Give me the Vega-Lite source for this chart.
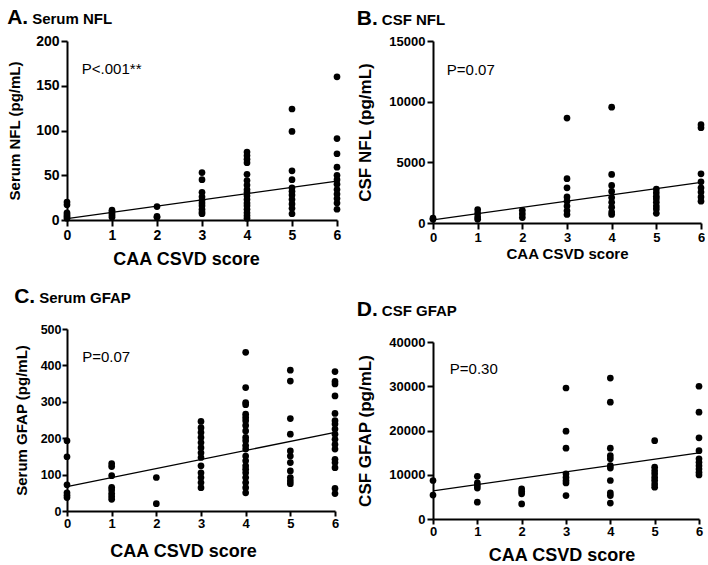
{
  "$schema": "https://vega.github.io/schema/vega-lite/v6.json",
  "padding": {"left": 7, "top": 7, "right": 0, "bottom": 0},
  "datasets": {
    "pts": [
      {"p":"A","s":0,"v":20},{"p":"A","s":0,"v":17},{"p":"A","s":0,"v":8},{"p":"A","s":0,"v":6},{"p":"A","s":0,"v":4},{"p":"A","s":0,"v":2},
      {"p":"A","s":1,"v":11},{"p":"A","s":1,"v":9},{"p":"A","s":1,"v":7},{"p":"A","s":1,"v":5},{"p":"A","s":1,"v":3},
      {"p":"A","s":2,"v":15},{"p":"A","s":2,"v":4},{"p":"A","s":2,"v":3},
      {"p":"A","s":3,"v":53},{"p":"A","s":3,"v":45},{"p":"A","s":3,"v":31},{"p":"A","s":3,"v":26},{"p":"A","s":3,"v":22},{"p":"A","s":3,"v":19},{"p":"A","s":3,"v":16},{"p":"A","s":3,"v":12},{"p":"A","s":3,"v":9},{"p":"A","s":3,"v":7},
      {"p":"A","s":4,"v":76},{"p":"A","s":4,"v":72},{"p":"A","s":4,"v":68},{"p":"A","s":4,"v":64},{"p":"A","s":4,"v":51},{"p":"A","s":4,"v":44},{"p":"A","s":4,"v":39},{"p":"A","s":4,"v":34},{"p":"A","s":4,"v":31},{"p":"A","s":4,"v":27},{"p":"A","s":4,"v":23},{"p":"A","s":4,"v":19},{"p":"A","s":4,"v":16},{"p":"A","s":4,"v":12},{"p":"A","s":4,"v":8},{"p":"A","s":4,"v":5},{"p":"A","s":4,"v":2},
      {"p":"A","s":5,"v":124},{"p":"A","s":5,"v":99},{"p":"A","s":5,"v":55},{"p":"A","s":5,"v":45},{"p":"A","s":5,"v":36},{"p":"A","s":5,"v":32},{"p":"A","s":5,"v":28},{"p":"A","s":5,"v":23},{"p":"A","s":5,"v":18},{"p":"A","s":5,"v":13},{"p":"A","s":5,"v":7},
      {"p":"A","s":6,"v":160},{"p":"A","s":6,"v":91},{"p":"A","s":6,"v":74},{"p":"A","s":6,"v":59},{"p":"A","s":6,"v":50},{"p":"A","s":6,"v":45},{"p":"A","s":6,"v":40},{"p":"A","s":6,"v":34},{"p":"A","s":6,"v":29},{"p":"A","s":6,"v":24},{"p":"A","s":6,"v":19},{"p":"A","s":6,"v":12},
      {"p":"B","s":0,"v":400},{"p":"B","s":0,"v":300},
      {"p":"B","s":1,"v":1100},{"p":"B","s":1,"v":800},{"p":"B","s":1,"v":500},{"p":"B","s":1,"v":300},
      {"p":"B","s":2,"v":1050},{"p":"B","s":2,"v":750},{"p":"B","s":2,"v":450},
      {"p":"B","s":3,"v":8650},{"p":"B","s":3,"v":3650},{"p":"B","s":3,"v":2900},{"p":"B","s":3,"v":2150},{"p":"B","s":3,"v":1800},{"p":"B","s":3,"v":1400},{"p":"B","s":3,"v":1000},{"p":"B","s":3,"v":700},
      {"p":"B","s":4,"v":9550},{"p":"B","s":4,"v":4000},{"p":"B","s":4,"v":3100},{"p":"B","s":4,"v":2600},{"p":"B","s":4,"v":2100},{"p":"B","s":4,"v":1700},{"p":"B","s":4,"v":1300},{"p":"B","s":4,"v":900},{"p":"B","s":4,"v":700},
      {"p":"B","s":5,"v":2800},{"p":"B","s":5,"v":2500},{"p":"B","s":5,"v":2200},{"p":"B","s":5,"v":2000},{"p":"B","s":5,"v":1700},{"p":"B","s":5,"v":1400},{"p":"B","s":5,"v":1150},{"p":"B","s":5,"v":800},
      {"p":"B","s":6,"v":8100},{"p":"B","s":6,"v":7850},{"p":"B","s":6,"v":4050},{"p":"B","s":6,"v":3400},{"p":"B","s":6,"v":2900},{"p":"B","s":6,"v":2550},{"p":"B","s":6,"v":2150},{"p":"B","s":6,"v":1800},
      {"p":"C","s":0,"v":193},{"p":"C","s":0,"v":149},{"p":"C","s":0,"v":72},{"p":"C","s":0,"v":50},{"p":"C","s":0,"v":43},{"p":"C","s":0,"v":37},
      {"p":"C","s":1,"v":130},{"p":"C","s":1,"v":122},{"p":"C","s":1,"v":97},{"p":"C","s":1,"v":65},{"p":"C","s":1,"v":58},{"p":"C","s":1,"v":48},{"p":"C","s":1,"v":40},{"p":"C","s":1,"v":32},
      {"p":"C","s":2,"v":92},{"p":"C","s":2,"v":20},
      {"p":"C","s":3,"v":246},{"p":"C","s":3,"v":229},{"p":"C","s":3,"v":216},{"p":"C","s":3,"v":202},{"p":"C","s":3,"v":188},{"p":"C","s":3,"v":174},{"p":"C","s":3,"v":160},{"p":"C","s":3,"v":147},{"p":"C","s":3,"v":124},{"p":"C","s":3,"v":105},{"p":"C","s":3,"v":92},{"p":"C","s":3,"v":78},{"p":"C","s":3,"v":64},
      {"p":"C","s":4,"v":436},{"p":"C","s":4,"v":339},{"p":"C","s":4,"v":298},{"p":"C","s":4,"v":292},{"p":"C","s":4,"v":266},{"p":"C","s":4,"v":257},{"p":"C","s":4,"v":248},{"p":"C","s":4,"v":235},{"p":"C","s":4,"v":220},{"p":"C","s":4,"v":202},{"p":"C","s":4,"v":193},{"p":"C","s":4,"v":180},{"p":"C","s":4,"v":170},{"p":"C","s":4,"v":151},{"p":"C","s":4,"v":138},{"p":"C","s":4,"v":124},{"p":"C","s":4,"v":115},{"p":"C","s":4,"v":105},{"p":"C","s":4,"v":92},{"p":"C","s":4,"v":78},{"p":"C","s":4,"v":64},{"p":"C","s":4,"v":50},
      {"p":"C","s":5,"v":387},{"p":"C","s":5,"v":357},{"p":"C","s":5,"v":254},{"p":"C","s":5,"v":211},{"p":"C","s":5,"v":165},{"p":"C","s":5,"v":151},{"p":"C","s":5,"v":133},{"p":"C","s":5,"v":110},{"p":"C","s":5,"v":92},{"p":"C","s":5,"v":83},{"p":"C","s":5,"v":75},
      {"p":"C","s":6,"v":383},{"p":"C","s":6,"v":356},{"p":"C","s":6,"v":349},{"p":"C","s":6,"v":316},{"p":"C","s":6,"v":268},{"p":"C","s":6,"v":248},{"p":"C","s":6,"v":239},{"p":"C","s":6,"v":225},{"p":"C","s":6,"v":211},{"p":"C","s":6,"v":197},{"p":"C","s":6,"v":183},{"p":"C","s":6,"v":170},{"p":"C","s":6,"v":142},{"p":"C","s":6,"v":133},{"p":"C","s":6,"v":119},{"p":"C","s":6,"v":62},{"p":"C","s":6,"v":48},
      {"p":"D","s":0,"v":8700},{"p":"D","s":0,"v":5400},
      {"p":"D","s":1,"v":9650},{"p":"D","s":1,"v":8150},{"p":"D","s":1,"v":7550},{"p":"D","s":1,"v":7000},{"p":"D","s":1,"v":3800},
      {"p":"D","s":2,"v":6800},{"p":"D","s":2,"v":6200},{"p":"D","s":2,"v":5700},{"p":"D","s":2,"v":3400},
      {"p":"D","s":3,"v":29600},{"p":"D","s":3,"v":19850},{"p":"D","s":3,"v":16000},{"p":"D","s":3,"v":10200},{"p":"D","s":3,"v":9400},{"p":"D","s":3,"v":8700},{"p":"D","s":3,"v":8150},{"p":"D","s":3,"v":5300},
      {"p":"D","s":4,"v":31850},{"p":"D","s":4,"v":26400},{"p":"D","s":4,"v":16000},{"p":"D","s":4,"v":14300},{"p":"D","s":4,"v":13600},{"p":"D","s":4,"v":12050},{"p":"D","s":4,"v":11500},{"p":"D","s":4,"v":8700},{"p":"D","s":4,"v":5900},{"p":"D","s":4,"v":5300},{"p":"D","s":4,"v":3600},
      {"p":"D","s":5,"v":17700},{"p":"D","s":5,"v":11700},{"p":"D","s":5,"v":10900},{"p":"D","s":5,"v":10200},{"p":"D","s":5,"v":9400},{"p":"D","s":5,"v":8700},{"p":"D","s":5,"v":7900},{"p":"D","s":5,"v":7200},
      {"p":"D","s":6,"v":30000},{"p":"D","s":6,"v":24150},{"p":"D","s":6,"v":18350},{"p":"D","s":6,"v":15450},{"p":"D","s":6,"v":13600},{"p":"D","s":6,"v":12800},{"p":"D","s":6,"v":12050},{"p":"D","s":6,"v":11300},{"p":"D","s":6,"v":10550},{"p":"D","s":6,"v":9950}
    ],
    "fit": [
      {"p":"A","s":0,"v":1.5},{"p":"A","s":6,"v":43.5},
      {"p":"B","s":0,"v":250},{"p":"B","s":6,"v":3350},
      {"p":"C","s":0,"v":67},{"p":"C","s":6,"v":216},
      {"p":"D","s":0,"v":6350},{"p":"D","s":6,"v":14950}
    ],
    "ann": [
      {"p":"A","s":0.33,"v":169,"t":"P<.001**"},
      {"p":"B","s":0.31,"v":12650,"t":"P=0.07"},
      {"p":"C","s":0.34,"v":424,"t":"P=0.07"},
      {"p":"D","s":0.38,"v":33950,"t":"P=0.30"}
    ]
  },
  "spacing": 15,
  "hconcat": [
    {
      "columns": 1, "align": "none", "spacing": 17,
      "concat": [
        {
          "width": 270, "height": 179,
          "title": {"text": "A.", "subtitle": "Serum NFL", "offset": 6, "encode": {"subtitle": {"update": {"dx": {"value": 25}}}}},
          "encoding": {
            "x": {"field": "s", "type": "quantitative", "scale": {"domain": [0, 6], "nice": false}, "axis": {"title": "CAA CSVD score", "titleFontSize": 18, "titleX": 119, "labelFontSize": 14}},
            "y": {"field": "v", "type": "quantitative", "scale": {"domain": [0, 200], "nice": false}, "axis": {"values": [0, 50, 100, 150, 200], "labelOverlap": false, "title": "Serum  NFL (pg/mL)", "titleFontSize": 15, "titlePadding": 13.5, "labelFontSize": 14}}
          },
          "layer": [
            {"data": {"name": "pts"}, "transform": [{"filter": "datum.p === 'A'"}], "mark": {"type": "circle", "size": 45, "color": "black", "opacity": 1}},
            {"data": {"name": "fit"}, "transform": [{"filter": "datum.p === 'A'"}], "mark": {"type": "line", "color": "black", "strokeWidth": 1.3}},
            {"data": {"name": "ann"}, "transform": [{"filter": "datum.p === 'A'"}],
             "mark": {"type": "text", "align": "left", "baseline": "middle", "fontSize": 15, "font": "Liberation Sans", "color": "black"},
             "encoding": {"text": {"field": "t"}}}
          ]
        },
        {
          "width": 268, "height": 182,
          "title": {"text": "C.", "subtitle": "Serum GFAP", "offset": 16.5, "encode": {"subtitle": {"update": {"dx": {"value": 25}}}}},
          "encoding": {
            "x": {"field": "s", "type": "quantitative", "scale": {"domain": [0, 6], "nice": false}, "axis": {"title": "CAA CSVD score", "titleFontSize": 18, "titleX": 116, "labelFontSize": 13, "tickSize": 5, "labelPadding": 1, "titlePadding": 12}},
            "y": {"field": "v", "type": "quantitative", "scale": {"domain": [0, 500], "nice": false}, "axis": {"values": [0, 100, 200, 300, 400, 500], "tickCount": 6, "labelOverlap": false, "title": "Serum GFAP (pg/mL)", "titleFontSize": 15, "titlePadding": 11, "labelFontSize": 12.5, "tickSize": 5, "labelPadding": 1}}
          },
          "layer": [
            {"data": {"name": "pts"}, "transform": [{"filter": "datum.p === 'C'"}], "mark": {"type": "circle", "size": 45, "color": "black", "opacity": 1}},
            {"data": {"name": "fit"}, "transform": [{"filter": "datum.p === 'C'"}], "mark": {"type": "line", "color": "black", "strokeWidth": 1.3}},
            {"data": {"name": "ann"}, "transform": [{"filter": "datum.p === 'C'"}],
             "mark": {"type": "text", "align": "left", "baseline": "middle", "fontSize": 15, "font": "Liberation Sans", "color": "black"},
             "encoding": {"text": {"field": "t"}}}
          ]
        }
      ]
    },
    {
      "columns": 1, "align": "none", "spacing": 38,
      "concat": [
        {
          "width": 268, "height": 182,
          "title": {"text": "B.", "subtitle": "CSF NFL", "offset": 6, "encode": {"subtitle": {"update": {"dx": {"value": 25}}}}},
          "encoding": {
            "x": {"field": "s", "type": "quantitative", "scale": {"domain": [0, 6], "nice": false}, "axis": {"title": "CAA CSVD score", "titleFontSize": 15, "titlePadding": 2, "labelFontSize": 13}},
            "y": {"field": "v", "type": "quantitative", "scale": {"domain": [0, 15000], "nice": false}, "axis": {"values": [0, 5000, 10000, 15000], "labelOverlap": false, "title": "CSF NFL (pg/mL)", "titleFontSize": 17, "titlePadding": 14, "labelFontSize": 13}}
          },
          "layer": [
            {"data": {"name": "pts"}, "transform": [{"filter": "datum.p === 'B'"}], "mark": {"type": "circle", "size": 45, "color": "black", "opacity": 1}},
            {"data": {"name": "fit"}, "transform": [{"filter": "datum.p === 'B'"}], "mark": {"type": "line", "color": "black", "strokeWidth": 1.3}},
            {"data": {"name": "ann"}, "transform": [{"filter": "datum.p === 'B'"}],
             "mark": {"type": "text", "align": "left", "baseline": "middle", "fontSize": 15, "font": "Liberation Sans", "color": "black"},
             "encoding": {"text": {"field": "t"}}}
          ]
        },
        {
          "width": 266, "height": 177,
          "title": {"text": "D.", "subtitle": "CSF GFAP", "offset": 16, "encode": {"subtitle": {"update": {"dx": {"value": 25}}}}},
          "encoding": {
            "x": {"field": "s", "type": "quantitative", "scale": {"domain": [0, 6], "nice": false}, "axis": {"title": "CAA CSVD score", "titleFontSize": 18, "titleX": 128.5, "labelFontSize": 13, "tickSize": 5, "labelPadding": 1, "titlePadding": 8}},
            "y": {"field": "v", "type": "quantitative", "scale": {"domain": [0, 40000], "nice": false}, "axis": {"values": [0, 10000, 20000, 30000, 40000], "labelOverlap": false, "title": "CSF GFAP (pg/mL)", "titleFontSize": 17, "titlePadding": 14, "labelFontSize": 13}}
          },
          "layer": [
            {"data": {"name": "pts"}, "transform": [{"filter": "datum.p === 'D'"}], "mark": {"type": "circle", "size": 45, "color": "black", "opacity": 1}},
            {"data": {"name": "fit"}, "transform": [{"filter": "datum.p === 'D'"}], "mark": {"type": "line", "color": "black", "strokeWidth": 1.3}},
            {"data": {"name": "ann"}, "transform": [{"filter": "datum.p === 'D'"}],
             "mark": {"type": "text", "align": "left", "baseline": "middle", "fontSize": 15, "font": "Liberation Sans", "color": "black"},
             "encoding": {"text": {"field": "t"}}}
          ]
        }
      ]
    }
  ],
  "config": {
    "font": "Liberation Sans",
    "view": {"stroke": null},
    "axis": {
      "grid": false, "domainColor": "black", "domainWidth": 2, "tickColor": "black", "tickWidth": 2, "tickSize": 6,
      "labelFont": "Liberation Sans", "labelFontSize": 14, "labelFontWeight": "bold", "labelColor": "black", "labelPadding": 2, "labelOverlap": false,
      "titleFont": "Liberation Sans", "titleFontSize": 16, "titleFontWeight": "bold", "titleColor": "black"
    },
    "axisX": {"titlePadding": 8, "labelFlush": false, "values": [0, 1, 2, 3, 4, 5, 6], "format": "d"},
    "axisY": {"format": "d", "labelFlush": false},
    "title": {
      "anchor": "start", "frame": "bounds", "font": "Liberation Sans", "fontSize": 21, "fontWeight": "bold", "color": "black",
      "subtitleFont": "Liberation Sans", "subtitleFontSize": 15, "subtitleFontWeight": "bold", "subtitleColor": "black",
      "subtitlePadding": -16
    }
  }
}
